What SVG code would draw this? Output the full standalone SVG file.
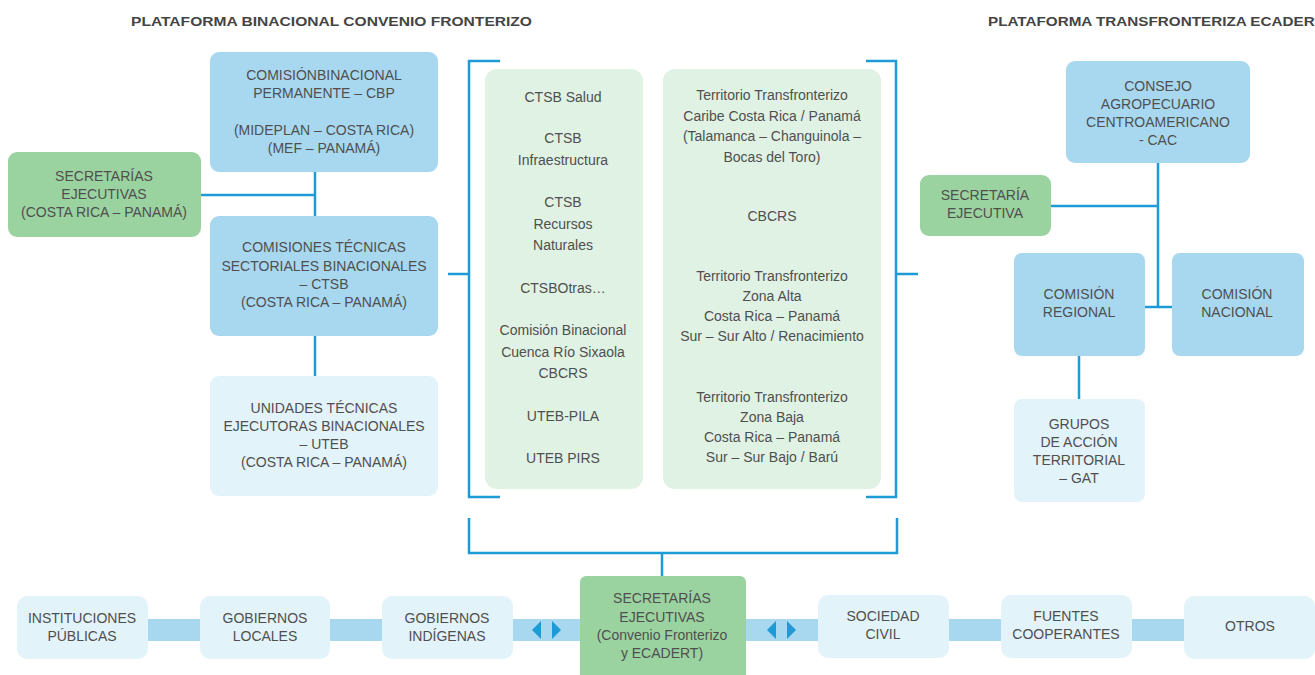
<svg xmlns="http://www.w3.org/2000/svg" width="1315" height="675" viewBox="0 0 1315 675">
<style>
text{font-family:"Liberation Sans",Arial,sans-serif;font-size:14px;fill:#4f4f4f;text-anchor:middle}
.title{font-weight:bold;font-size:13px;fill:#444;text-anchor:start}
.blue{fill:#a8d8ef}
.pale{fill:#e3f3fa}
.green{fill:#9bd3a0}
.lgreen{fill:#e0f2e4}
.ln{fill:none;stroke:#1e9ad6;stroke-width:2.5}
.tri{fill:#1e9ad6}
</style>
<rect width="1315" height="675" fill="#fff"/>
<text class="title" x="131" y="26" textLength="401" lengthAdjust="spacingAndGlyphs">PLATAFORMA BINACIONAL CONVENIO FRONTERIZO</text>
<text class="title" x="988" y="26" textLength="336" lengthAdjust="spacingAndGlyphs">PLATAFORMA TRANSFRONTERIZA ECADERT</text>

<g id="connectors">
<path class="ln" d="M315 172V216M201 195H315M315 336V376"/>
<path class="ln" d="M500 61H469V497H500M448 274H469"/>
<path class="ln" d="M866 61H896V497H866M896 274H918"/>
<path class="ln" d="M469 518V553H897V518M662 553V576"/>
<path class="ln" d="M1158 163V307M1051 206H1158M1145 307H1172M1079 356V399"/>
<rect x="148" y="619" width="1040" height="22" class="blue"/>
<polygon class="tri" points="532,630 541,621 541,639"/>
<polygon class="tri" points="552,621 561,630 552,639"/>
<polygon class="tri" points="767,630 776,621 776,639"/>
<polygon class="tri" points="787,621 796,630 787,639"/>
</g>

<g id="cbp"><rect x="210" y="52" width="228" height="120" rx="9" class="blue"/>
<text x="324" y="80">COMISIÓNBINACIONAL</text><text x="324" y="98">PERMANENTE – CBP</text>
<text x="324" y="135">(MIDEPLAN – COSTA RICA)</text><text x="324" y="153">(MEF – PANAMÁ)</text></g>

<g id="sec-left"><rect x="8" y="152" width="193" height="85" rx="9" class="green"/>
<text x="104" y="181">SECRETARÍAS</text><text x="104" y="199">EJECUTIVAS</text><text x="104" y="217">(COSTA RICA – PANAMÁ)</text></g>

<g id="ctsb"><rect x="210" y="216" width="228" height="120" rx="9" class="blue"/>
<text x="324" y="252">COMISIONES TÉCNICAS</text><text x="324" y="271">SECTORIALES BINACIONALES</text>
<text x="324" y="289">– CTSB</text><text x="324" y="307">(COSTA RICA – PANAMÁ)</text></g>

<g id="uteb"><rect x="210" y="376" width="228" height="120" rx="9" class="pale"/>
<text x="324" y="413">UNIDADES TÉCNICAS</text><text x="324" y="431">EJECUTORAS BINACIONALES</text>
<text x="324" y="449">– UTEB</text><text x="324" y="467">(COSTA RICA – PANAMÁ)</text></g>

<g id="list-ctsb"><rect x="485" y="69" width="158" height="420" rx="12" class="lgreen"/>
<text x="563" y="102">CTSB Salud</text>
<text x="563" y="143">CTSB</text><text x="563" y="165">Infraestructura</text>
<text x="563" y="207">CTSB</text><text x="563" y="229">Recursos</text><text x="563" y="250">Naturales</text>
<text x="563" y="293">CTSBOtras…</text>
<text x="563" y="335">Comisión Binacional</text><text x="563" y="357">Cuenca Río Sixaola</text><text x="563" y="378">CBCRS</text>
<text x="563" y="421">UTEB-PILA</text>
<text x="563" y="463">UTEB PIRS</text></g>

<g id="list-territorios"><rect x="663" y="69" width="218" height="420" rx="12" class="lgreen"/>
<text x="772" y="100">Territorio Transfronterizo</text><text x="772" y="121">Caribe Costa Rica / Panamá</text>
<text x="772" y="141">(Talamanca – Changuinola –</text><text x="772" y="162">Bocas del Toro)</text>
<text x="772" y="221">CBCRS</text>
<text x="772" y="281">Territorio Transfronterizo</text><text x="772" y="301">Zona Alta</text>
<text x="772" y="321">Costa Rica – Panamá</text><text x="772" y="341">Sur – Sur Alto / Renacimiento</text>
<text x="772" y="402">Territorio Transfronterizo</text><text x="772" y="422">Zona Baja</text>
<text x="772" y="442">Costa Rica – Panamá</text><text x="772" y="462">Sur – Sur Bajo / Barú</text></g>

<g id="cac"><rect x="1066" y="61" width="184" height="102" rx="9" class="blue"/>
<text x="1158" y="91">CONSEJO</text><text x="1158" y="109">AGROPECUARIO</text>
<text x="1158" y="127">CENTROAMERICANO</text><text x="1158" y="145">- CAC</text></g>

<g id="sec-right"><rect x="920" y="175" width="131" height="61" rx="9" class="green"/>
<text x="985" y="200">SECRETARÍA</text><text x="985" y="218">EJECUTIVA</text></g>

<g id="com-regional"><rect x="1014" y="253" width="131" height="103" rx="8" class="blue"/>
<text x="1079" y="299">COMISIÓN</text><text x="1079" y="317">REGIONAL</text></g>

<g id="com-nacional"><rect x="1172" y="253" width="132" height="103" rx="8" class="blue"/>
<text x="1237" y="299">COMISIÓN</text><text x="1237" y="317">NACIONAL</text></g>

<g id="gat"><rect x="1014" y="399" width="131" height="103" rx="8" class="pale"/>
<text x="1079" y="429">GRUPOS</text><text x="1079" y="447">DE ACCIÓN</text>
<text x="1079" y="465">TERRITORIAL</text><text x="1079" y="483">– GAT</text></g>

<g id="inst"><rect x="17" y="596" width="131" height="63" rx="10" class="pale"/>
<text x="82" y="623">INSTITUCIONES</text><text x="82" y="641">PÚBLICAS</text></g>
<g id="gob-locales"><rect x="200" y="596" width="130" height="63" rx="10" class="pale"/>
<text x="265" y="623">GOBIERNOS</text><text x="265" y="641">LOCALES</text></g>
<g id="gob-indigenas"><rect x="382" y="596" width="131" height="63" rx="10" class="pale"/>
<text x="447" y="623">GOBIERNOS</text><text x="447" y="641">INDÍGENAS</text></g>
<g id="sec-center"><rect x="580" y="576" width="166" height="112" rx="6" class="green"/>
<text x="662" y="603">SECRETARÍAS</text><text x="662" y="622">EJECUTIVAS</text>
<text x="662" y="640">(Convenio Fronterizo</text><text x="662" y="658">y ECADERT)</text></g>
<g id="sociedad"><rect x="818" y="595" width="131" height="63" rx="10" class="pale"/>
<text x="883" y="621">SOCIEDAD</text><text x="883" y="639">CIVIL</text></g>
<g id="fuentes"><rect x="1001" y="595" width="131" height="63" rx="10" class="pale"/>
<text x="1066" y="621">FUENTES</text><text x="1066" y="639">COOPERANTES</text></g>
<g id="otros"><rect x="1184" y="596" width="131" height="63" rx="10" class="pale"/>
<text x="1250" y="631">OTROS</text></g>
</svg>
